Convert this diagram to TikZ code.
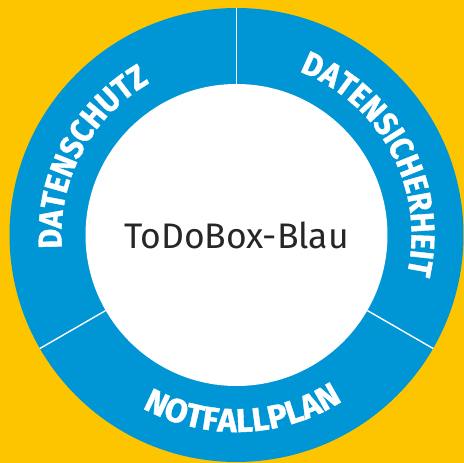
\documentclass[tikz,border=0pt]{standalone}
\usepackage{fontspec}
\setmainfont{Fira Sans}
\newfontfamily\ringfont{Fira Sans}[FakeStretch=0.92,FakeBold=1.2]
\newfontfamily\widefont{Fira Sans}[FakeStretch=1.0,FakeBold=1.2]
\usetikzlibrary{decorations.text}
\definecolor{box_yellow}{RGB}{253, 196, 0}
\definecolor{box_blue}{RGB}{0, 150, 214}
\tikzstyle{rim}=[circle,fill=box_blue,inner sep=0pt,minimum size=454pt]
\tikzstyle{hub}=[circle,fill=white,inner sep=0pt,minimum size=302pt,
  font=\fontsize{35.5}{36}\selectfont,text=black!85]
\tikzstyle{sep}=[draw=white,line width=1.4pt]
\tikzstyle{rlabel}=[decorate,decoration={text along path,text align=center,
  text color=white}]
\begin{document}
\begin{tikzpicture}[x=1pt,y=1pt]
        \fill[box_yellow] (0,0) rectangle (464,463);
        \useasboundingbox (0,0) rectangle (464,463);
        \node [style=rim] (r) at (236.5,228) {};
        \node [style=hub] (h) at (236.5,228) {ToDoBox-Blau};
        \draw [style=sep] (h.90) to (r.90);
        \draw [style=sep] (h.210) to (r.210);
        \draw [style=sep] (h.330) to (r.330);
        \path [style=rlabel,decoration={text={|\ringfont\bfseries\fontsize{33}{33}\selectfont|DATENSCHUTZ}}]
          ([shift={(212:175pt)}]h.center) arc [start angle=212,end angle=92,radius=175pt];
        \path [style=rlabel,decoration={text={|\ringfont\bfseries\fontsize{33}{33}\selectfont|DATENSICHERHEIT}}]
          ([shift={(88:175pt)}]h.center) arc [start angle=88,end angle=-32,radius=175pt];
        \path [style=rlabel,decoration={text={|\widefont\bfseries\fontsize{33}{33}\selectfont|NOTFALLPLAN}}]
          ([shift={(212:197pt)}]h.center) arc [start angle=212,end angle=332,radius=197pt];
    \end{tikzpicture}
\end{document}
